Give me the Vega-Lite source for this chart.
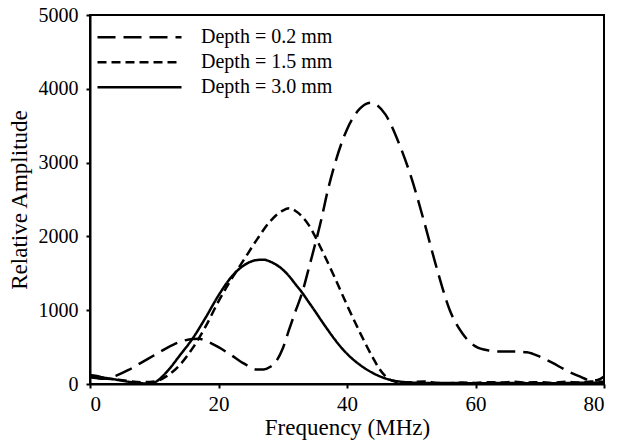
{
  "$schema": "https://vega.github.io/schema/vega-lite/v6.json",
  "width": 514,
  "height": 369,
  "autosize": {"type": "none"},
  "padding": {"left": 90, "top": 15, "right": 17, "bottom": 64},
  "background": "white",
  "config": {
    "view": {"stroke": "black", "strokeWidth": 2},
    "axis": {
      "labelColor": "black",
      "titleColor": "black",
      "titleFontWeight": "normal",
      "domainColor": "black",
      "domainWidth": 2,
      "tickColor": "black",
      "tickWidth": 2,
      "tickSize": 4,
      "grid": false
    }
  },
  "data": {
    "values": [
      {"f": 0, "amp": 90, "depth": "Depth = 0.2 mm"},
      {"f": 1, "amp": 80, "depth": "Depth = 0.2 mm"},
      {"f": 2, "amp": 70, "depth": "Depth = 0.2 mm"},
      {"f": 3, "amp": 80, "depth": "Depth = 0.2 mm"},
      {"f": 4, "amp": 110, "depth": "Depth = 0.2 mm"},
      {"f": 6, "amp": 190, "depth": "Depth = 0.2 mm"},
      {"f": 8, "amp": 290, "depth": "Depth = 0.2 mm"},
      {"f": 10, "amp": 390, "depth": "Depth = 0.2 mm"},
      {"f": 12, "amp": 490, "depth": "Depth = 0.2 mm"},
      {"f": 14, "amp": 570, "depth": "Depth = 0.2 mm"},
      {"f": 16, "amp": 610, "depth": "Depth = 0.2 mm"},
      {"f": 17, "amp": 612, "depth": "Depth = 0.2 mm"},
      {"f": 18, "amp": 585, "depth": "Depth = 0.2 mm"},
      {"f": 20, "amp": 500, "depth": "Depth = 0.2 mm"},
      {"f": 22, "amp": 390, "depth": "Depth = 0.2 mm"},
      {"f": 24, "amp": 275, "depth": "Depth = 0.2 mm"},
      {"f": 26, "amp": 195, "depth": "Depth = 0.2 mm"},
      {"f": 27, "amp": 195, "depth": "Depth = 0.2 mm"},
      {"f": 28, "amp": 230, "depth": "Depth = 0.2 mm"},
      {"f": 29, "amp": 310, "depth": "Depth = 0.2 mm"},
      {"f": 30, "amp": 480, "depth": "Depth = 0.2 mm"},
      {"f": 31, "amp": 740, "depth": "Depth = 0.2 mm"},
      {"f": 32, "amp": 990, "depth": "Depth = 0.2 mm"},
      {"f": 33, "amp": 1230, "depth": "Depth = 0.2 mm"},
      {"f": 34, "amp": 1550, "depth": "Depth = 0.2 mm"},
      {"f": 35, "amp": 1880, "depth": "Depth = 0.2 mm"},
      {"f": 36, "amp": 2230, "depth": "Depth = 0.2 mm"},
      {"f": 37, "amp": 2620, "depth": "Depth = 0.2 mm"},
      {"f": 38, "amp": 2950, "depth": "Depth = 0.2 mm"},
      {"f": 40, "amp": 3450, "depth": "Depth = 0.2 mm"},
      {"f": 42, "amp": 3730, "depth": "Depth = 0.2 mm"},
      {"f": 43.7, "amp": 3810, "depth": "Depth = 0.2 mm"},
      {"f": 46, "amp": 3650, "depth": "Depth = 0.2 mm"},
      {"f": 48, "amp": 3280, "depth": "Depth = 0.2 mm"},
      {"f": 50, "amp": 2800, "depth": "Depth = 0.2 mm"},
      {"f": 52, "amp": 2200, "depth": "Depth = 0.2 mm"},
      {"f": 54, "amp": 1560, "depth": "Depth = 0.2 mm"},
      {"f": 56, "amp": 1000, "depth": "Depth = 0.2 mm"},
      {"f": 58, "amp": 680, "depth": "Depth = 0.2 mm"},
      {"f": 60, "amp": 510, "depth": "Depth = 0.2 mm"},
      {"f": 62, "amp": 455, "depth": "Depth = 0.2 mm"},
      {"f": 64, "amp": 440, "depth": "Depth = 0.2 mm"},
      {"f": 66, "amp": 440, "depth": "Depth = 0.2 mm"},
      {"f": 68, "amp": 430, "depth": "Depth = 0.2 mm"},
      {"f": 70, "amp": 370, "depth": "Depth = 0.2 mm"},
      {"f": 72, "amp": 285, "depth": "Depth = 0.2 mm"},
      {"f": 74, "amp": 190, "depth": "Depth = 0.2 mm"},
      {"f": 76, "amp": 110, "depth": "Depth = 0.2 mm"},
      {"f": 78, "amp": 50, "depth": "Depth = 0.2 mm"},
      {"f": 79, "amp": 55, "depth": "Depth = 0.2 mm"},
      {"f": 80, "amp": 100, "depth": "Depth = 0.2 mm"},

      {"f": 0, "amp": 100, "depth": "Depth = 1.5 mm"},
      {"f": 1, "amp": 95, "depth": "Depth = 1.5 mm"},
      {"f": 2, "amp": 80, "depth": "Depth = 1.5 mm"},
      {"f": 4, "amp": 60, "depth": "Depth = 1.5 mm"},
      {"f": 6, "amp": 40, "depth": "Depth = 1.5 mm"},
      {"f": 8, "amp": 25, "depth": "Depth = 1.5 mm"},
      {"f": 10, "amp": 35, "depth": "Depth = 1.5 mm"},
      {"f": 12, "amp": 110, "depth": "Depth = 1.5 mm"},
      {"f": 14, "amp": 260, "depth": "Depth = 1.5 mm"},
      {"f": 16, "amp": 490, "depth": "Depth = 1.5 mm"},
      {"f": 18, "amp": 780, "depth": "Depth = 1.5 mm"},
      {"f": 20, "amp": 1120, "depth": "Depth = 1.5 mm"},
      {"f": 22, "amp": 1420, "depth": "Depth = 1.5 mm"},
      {"f": 24, "amp": 1690, "depth": "Depth = 1.5 mm"},
      {"f": 26, "amp": 1960, "depth": "Depth = 1.5 mm"},
      {"f": 28, "amp": 2200, "depth": "Depth = 1.5 mm"},
      {"f": 30, "amp": 2350, "depth": "Depth = 1.5 mm"},
      {"f": 31, "amp": 2380, "depth": "Depth = 1.5 mm"},
      {"f": 32, "amp": 2345, "depth": "Depth = 1.5 mm"},
      {"f": 33, "amp": 2270, "depth": "Depth = 1.5 mm"},
      {"f": 34, "amp": 2160, "depth": "Depth = 1.5 mm"},
      {"f": 36, "amp": 1830, "depth": "Depth = 1.5 mm"},
      {"f": 38, "amp": 1460, "depth": "Depth = 1.5 mm"},
      {"f": 40, "amp": 1070, "depth": "Depth = 1.5 mm"},
      {"f": 42, "amp": 700, "depth": "Depth = 1.5 mm"},
      {"f": 44, "amp": 360, "depth": "Depth = 1.5 mm"},
      {"f": 45, "amp": 210, "depth": "Depth = 1.5 mm"},
      {"f": 46, "amp": 105, "depth": "Depth = 1.5 mm"},
      {"f": 47, "amp": 45, "depth": "Depth = 1.5 mm"},
      {"f": 48, "amp": 25, "depth": "Depth = 1.5 mm"},
      {"f": 50, "amp": 25, "depth": "Depth = 1.5 mm"},
      {"f": 52, "amp": 35, "depth": "Depth = 1.5 mm"},
      {"f": 54, "amp": 15, "depth": "Depth = 1.5 mm"},
      {"f": 56, "amp": 10, "depth": "Depth = 1.5 mm"},
      {"f": 58, "amp": 20, "depth": "Depth = 1.5 mm"},
      {"f": 60, "amp": 15, "depth": "Depth = 1.5 mm"},
      {"f": 62, "amp": 25, "depth": "Depth = 1.5 mm"},
      {"f": 64, "amp": 20, "depth": "Depth = 1.5 mm"},
      {"f": 66, "amp": 30, "depth": "Depth = 1.5 mm"},
      {"f": 68, "amp": 20, "depth": "Depth = 1.5 mm"},
      {"f": 70, "amp": 25, "depth": "Depth = 1.5 mm"},
      {"f": 72, "amp": 15, "depth": "Depth = 1.5 mm"},
      {"f": 74, "amp": 30, "depth": "Depth = 1.5 mm"},
      {"f": 76, "amp": 20, "depth": "Depth = 1.5 mm"},
      {"f": 78, "amp": 35, "depth": "Depth = 1.5 mm"},
      {"f": 80, "amp": 30, "depth": "Depth = 1.5 mm"},

      {"f": 0, "amp": 120, "depth": "Depth = 3.0 mm"},
      {"f": 1, "amp": 110, "depth": "Depth = 3.0 mm"},
      {"f": 2, "amp": 90, "depth": "Depth = 3.0 mm"},
      {"f": 4, "amp": 60, "depth": "Depth = 3.0 mm"},
      {"f": 6, "amp": 30, "depth": "Depth = 3.0 mm"},
      {"f": 8, "amp": 10, "depth": "Depth = 3.0 mm"},
      {"f": 9, "amp": 5, "depth": "Depth = 3.0 mm"},
      {"f": 10, "amp": 20, "depth": "Depth = 3.0 mm"},
      {"f": 12, "amp": 170, "depth": "Depth = 3.0 mm"},
      {"f": 14, "amp": 390, "depth": "Depth = 3.0 mm"},
      {"f": 16, "amp": 620, "depth": "Depth = 3.0 mm"},
      {"f": 18, "amp": 900, "depth": "Depth = 3.0 mm"},
      {"f": 20, "amp": 1200, "depth": "Depth = 3.0 mm"},
      {"f": 22, "amp": 1450, "depth": "Depth = 3.0 mm"},
      {"f": 24, "amp": 1610, "depth": "Depth = 3.0 mm"},
      {"f": 26, "amp": 1680, "depth": "Depth = 3.0 mm"},
      {"f": 27, "amp": 1685, "depth": "Depth = 3.0 mm"},
      {"f": 28, "amp": 1660, "depth": "Depth = 3.0 mm"},
      {"f": 30, "amp": 1550, "depth": "Depth = 3.0 mm"},
      {"f": 31, "amp": 1460, "depth": "Depth = 3.0 mm"},
      {"f": 32, "amp": 1350, "depth": "Depth = 3.0 mm"},
      {"f": 33, "amp": 1240, "depth": "Depth = 3.0 mm"},
      {"f": 34, "amp": 1115, "depth": "Depth = 3.0 mm"},
      {"f": 35, "amp": 990, "depth": "Depth = 3.0 mm"},
      {"f": 36, "amp": 860, "depth": "Depth = 3.0 mm"},
      {"f": 37, "amp": 735, "depth": "Depth = 3.0 mm"},
      {"f": 38, "amp": 615, "depth": "Depth = 3.0 mm"},
      {"f": 39, "amp": 505, "depth": "Depth = 3.0 mm"},
      {"f": 40, "amp": 410, "depth": "Depth = 3.0 mm"},
      {"f": 42, "amp": 260, "depth": "Depth = 3.0 mm"},
      {"f": 44, "amp": 150, "depth": "Depth = 3.0 mm"},
      {"f": 46, "amp": 75, "depth": "Depth = 3.0 mm"},
      {"f": 48, "amp": 35, "depth": "Depth = 3.0 mm"},
      {"f": 50, "amp": 20, "depth": "Depth = 3.0 mm"},
      {"f": 52, "amp": 15, "depth": "Depth = 3.0 mm"},
      {"f": 55, "amp": 15, "depth": "Depth = 3.0 mm"},
      {"f": 60, "amp": 10, "depth": "Depth = 3.0 mm"},
      {"f": 65, "amp": 15, "depth": "Depth = 3.0 mm"},
      {"f": 70, "amp": 10, "depth": "Depth = 3.0 mm"},
      {"f": 75, "amp": 15, "depth": "Depth = 3.0 mm"},
      {"f": 80, "amp": 20, "depth": "Depth = 3.0 mm"}
    ]
  },
  "mark": {"type": "line", "color": "black", "strokeWidth": 2.5, "interpolate": "monotone", "clip": true},
  "encoding": {
    "x": {
      "field": "f", "type": "quantitative",
      "scale": {"domain": [0, 80], "nice": false},
      "axis": {"values": [0, 20, 40, 60, 80], "title": "Frequency (MHz)", "labelFont": "Liberation Serif", "titleFont": "Liberation Serif", "labelFontSize": 21, "titleFontSize": 23, "labelPadding": 5, "titlePadding": 2}
    },
    "y": {
      "field": "amp", "type": "quantitative",
      "scale": {"domain": [0, 5000], "nice": false},
      "axis": {"values": [0, 1000, 2000, 3000, 4000, 5000], "format": "d", "title": "Relative Amplitude", "labelFont": "Liberation Serif", "titleFont": "Liberation Serif", "labelFontSize": 20, "titleFontSize": 23, "labelPadding": 8, "titlePadding": 7}
    },
    "strokeDash": {
      "field": "depth", "type": "nominal",
      "scale": {"domain": ["Depth = 0.2 mm", "Depth = 1.5 mm", "Depth = 3.0 mm"], "range": [[18, 8], [9, 5], [1, 0]]},
      "legend": {
        "title": null,
        "orient": "none",
        "legendX": 6,
        "legendY": 10,
        "symbolType": "stroke",
        "symbolSize": 7056,
        "symbolStrokeWidth": 2.5,
        "symbolStrokeColor": "black",
        "clipHeight": 24.5,
        "labelFont": "Liberation Serif",
        "labelFontSize": 20,
        "labelColor": "black",
        "labelOffset": 18,
        "padding": 0,
        "rowPadding": 0
      }
    }
  }
}
